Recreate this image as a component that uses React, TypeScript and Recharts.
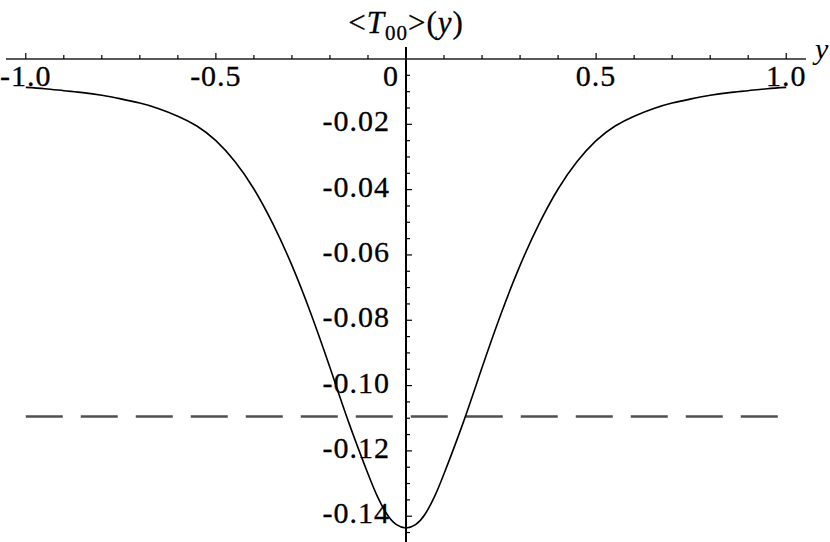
import React from 'react';
import { LineChart, Line, XAxis, YAxis, ReferenceLine } from 'recharts';

// Sample positions along y
const positions = [
  -1.0, -0.95, -0.9, -0.85, -0.8, -0.75, -0.7, -0.65, -0.6, -0.55, -0.5,
  -0.45, -0.4, -0.35, -0.3, -0.25, -0.2, -0.15, -0.1, -0.075, -0.05, -0.025, 0.0,
  0.025, 0.05, 0.075, 0.1, 0.15, 0.2, 0.25, 0.3, 0.35, 0.4, 0.45, 0.5,
  0.55, 0.6, 0.65, 0.7, 0.75, 0.8, 0.85, 0.9, 0.95, 1.0,
];

// <T00>(y) values
const t00Values = [
  -0.0087, -0.0091, -0.0097, -0.0103, -0.0111, -0.0122, -0.0135, -0.0152, -0.0175, -0.0205, -0.0250,
  -0.0314, -0.0398, -0.0505, -0.0632, -0.0780, -0.0945, -0.1115, -0.1270, -0.1340, -0.1394, -0.1426, -0.1436,
  -0.1426, -0.1394, -0.1340, -0.1270, -0.1115, -0.0945, -0.0780, -0.0632, -0.0505, -0.0398, -0.0314, -0.0250,
  -0.0205, -0.0175, -0.0152, -0.0135, -0.0122, -0.0111, -0.0103, -0.0097, -0.0091, -0.0087,
];

// Horizontal dashed reference level
const dashedLevel = -0.1095;
const dashedSpan = [-1.0, 1.0];

// Axis ticks
const xTicks = [
  -1.0, -0.9, -0.8, -0.7, -0.6, -0.5, -0.4, -0.3, -0.2, -0.1, 0,
  0.1, 0.2, 0.3, 0.4, 0.5, 0.6, 0.7, 0.8, 0.9, 1.0,
];
const xMajorTicks = [-1.0, -0.5, 0, 0.5, 1.0];
const xMajorLabels = ['-1.0', '-0.5', '0', '0.5', '1.0'];

const yTicks = [
  0, -0.005, -0.01, -0.015, -0.02, -0.025, -0.03, -0.035, -0.04, -0.045, -0.05,
  -0.055, -0.06, -0.065, -0.07, -0.075, -0.08, -0.085, -0.09, -0.095, -0.1,
  -0.105, -0.11, -0.115, -0.12, -0.125, -0.13, -0.135, -0.14, -0.145,
];
const yMajorTicks = [-0.02, -0.04, -0.06, -0.08, -0.1, -0.12, -0.14];
const yMajorLabels = ['-0.02', '-0.04', '-0.06', '-0.08', '-0.10', '-0.12', '-0.14'];

const data = positions.map((x, i) => ({ x, v: t00Values[i] }));

const textStyle: React.CSSProperties = { fontFamily: 'Liberation Serif', fontSize: 30, letterSpacing: 1 };
const PLOT_LEFT = 6;
const PLOT_WIDTH = 800;
const Y_AXIS_OFFSET = PLOT_WIDTH / 2; // x = 0 sits in the middle of a symmetric domain

const near = (a: number, b: number) => Math.abs(a - b) < 1e-9;

const XTick = (props: any) => {
  const { x, y, payload } = props;
  const val = payload.value as number;
  const idx = xMajorTicks.findIndex((m) => near(m, val));
  const major = idx >= 0;
  const len = major ? 6 : 4;
  const isZero = near(val, 0);
  return (
    <g>
      {!isZero && (
        <line x1={x} y1={y} x2={x} y2={y - len} stroke="#000" strokeWidth={1.2} />
      )}
      {major && (
        <text
          x={isZero ? x - 15 : x}
          y={y + 27}
          textAnchor="middle"
          style={textStyle}
          fill="#000"
          stroke="#000"
          strokeWidth={0.3}
        >
          {xMajorLabels[idx]}
        </text>
      )}
    </g>
  );
};

const YTick = (props: any) => {
  const { x, y, payload } = props;
  const val = payload.value as number;
  const idx = yMajorTicks.findIndex((m) => near(m, val));
  const major = idx >= 0;
  const len = major ? 6 : 4;
  const ax = x + Y_AXIS_OFFSET;
  if (near(val, 0)) return <g />;
  return (
    <g>
      <line x1={ax} y1={y} x2={ax + len} y2={y} stroke="#000" strokeWidth={1.2} />
      {major && (
        <text
          x={ax - 16}
          y={y + 7}
          textAnchor="end"
          style={textStyle}
          fill="#000"
          stroke="#000"
          strokeWidth={0.3}
        >
          {yMajorLabels[idx]}
        </text>
      )}
    </g>
  );
};

const AxisNameLabel = (props: any) => {
  const vb = props.viewBox || {};
  return (
    <text
      x={vb.x + vb.width + 9}
      y={vb.y + vb.height}
      style={{ ...textStyle, fontStyle: 'italic', letterSpacing: 0 }}
      fill="#000"
    >
      y
    </text>
  );
};

export default function App() {
  return (
    <div style={{ position: 'absolute', left: 0, top: 0, width: 830, height: 542, background: '#fff', fontFamily: 'Liberation Serif' }}>
      <LineChart
        width={830}
        height={542}
        data={data}
        margin={{ top: 0, right: 24, bottom: 0, left: PLOT_LEFT - 1 }}
      >
        <XAxis
          type="number"
          dataKey="x"
          orientation="top"
          domain={[-1.052, 1.052]}
          ticks={xTicks}
          interval={0}
          height={59}
          tickSize={0}
          tickMargin={0}
          tickLine={false}
          tick={<XTick />}
          axisLine={{ stroke: '#222', strokeWidth: 1.5 }}
          allowDataOverflow
          label={<AxisNameLabel />}
        />
        <YAxis
          type="number"
          dataKey="v"
          domain={[-0.1479, 0]}
          ticks={yTicks}
          interval={0}
          width={1}
          tickSize={0}
          tickMargin={0}
          tickLine={false}
          axisLine={false}
          tick={<YTick />}
          allowDataOverflow
        />
        <ReferenceLine
          segment={[{ x: 0, y: 0.0037 }, { x: 0, y: -0.1479 }]}
          stroke="#000"
          strokeWidth={2}
          ifOverflow="visible"
        />
        <ReferenceLine
          segment={[{ x: dashedSpan[0], y: dashedLevel }, { x: dashedSpan[1], y: dashedLevel }]}
          stroke="#505050"
          strokeWidth={2.5}
          strokeDasharray="37 18"
          ifOverflow="visible"
        />
        <Line
          type="natural"
          dataKey="v"
          stroke="#000"
          strokeWidth={1.6}
          dot={false}
          isAnimationActive={false}
        />
        <text x={406} y={33} textAnchor="middle" style={{ ...textStyle, fontSize: 31 }} fill="#000" stroke="#000" strokeWidth={0.3}>
          {'<'}
          <tspan style={{ fontStyle: 'italic' }}>T</tspan>
          <tspan style={{ fontSize: 21 }} dy={7}>00</tspan>
          <tspan dy={-7}>{'>('}</tspan>
          <tspan style={{ fontStyle: 'italic' }}>y</tspan>
          <tspan>{')'}</tspan>
        </text>
      </LineChart>
    </div>
  );
}
